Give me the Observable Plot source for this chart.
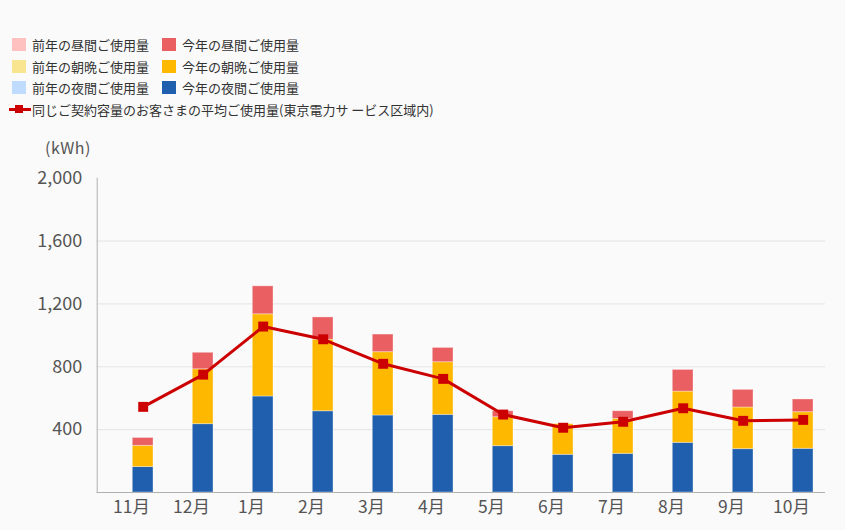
<!DOCTYPE html>
<html>
<head>
<meta charset="utf-8">
<script src="https://cdn.jsdelivr.net/npm/d3@7"></script>
<script src="https://cdn.jsdelivr.net/npm/@observablehq/plot@0.6"></script>
<style>
  html, body { margin: 0; padding: 0; background: #fafafa; }
  body { width: 845px; height: 530px; position: relative; overflow: hidden;
         font-family: "Noto Sans CJK JP", "Noto Sans", sans-serif; color: #333; }
  #legend { position: absolute; left: 12px; top: 34px; font-size: 13px; line-height: 21.5px; }
  .row { display: flex; height: 21.5px; align-items: center; }
  .item { display: flex; align-items: center; width: 150px; }
  .sw { width: 14px; height: 13px; margin-right: 6px; flex: none; }
  .ln { position: relative; width: 22px; height: 13px; margin-right: 1px; flex: none; }
  .ln::before { content: ""; position: absolute; left: 0; right: 0; top: 5px; height: 3px; background: #cc0000; }
  .ln::after { content: ""; position: absolute; left: 6px; top: 2.5px; width: 8px; height: 8px; background: #cc0000; }
  #unit { position: absolute; left: 45px; top: 135px; font-size: 16px; color: #555; letter-spacing: 0.5px; }
  #chart { position: absolute; left: 0; top: 125px; }
</style>
</head>
<body>
<div id="legend"></div>
<div id="unit">(kWh)</div>
<div id="chart"></div>
<script>
const months = ["11月","12月","1月","2月","3月","4月","5月","6月","7月","8月","9月","10月"];
const nightThisYear = [162, 435, 611, 517, 490, 494, 295, 240, 246, 316, 276, 278];
const morningThisYear = [135, 349, 523, 455, 403, 335, 184, 195, 222, 326, 265, 233];
const dayThisYear = [50, 105, 178, 142, 112, 91, 38, 0, 49, 138, 112, 81];
const averageUsage = [545, 750, 1056, 975, 819, 723, 496, 412, 450, 536, 456, 462];
const yTicks = [400, 800, 1200, 1600, 2000];
const gridTicks = [400, 800, 1200, 1600];

const seriesNames = ["今年の夜間ご使用量", "今年の朝晩ご使用量", "今年の昼間ご使用量"];
const seriesColors = ["#1f5fad", "#ffb800", "#e95f62"];
const legendRows = [
  [["前年の昼間ご使用量", "#ffc0c0"], ["今年の昼間ご使用量", "#e95f62"]],
  [["前年の朝晩ご使用量", "#f9e58f"], ["今年の朝晩ご使用量", "#ffb800"]],
  [["前年の夜間ご使用量", "#bfdcff"], ["今年の夜間ご使用量", "#1f5fad"]]
];
const lineLabel = "同じご契約容量のお客さまの平均ご使用量(東京電力サ ービス区域内)";

// legend
const legend = document.getElementById("legend");
for (const row of legendRows) {
  const r = document.createElement("div"); r.className = "row";
  for (const [name, color] of row) {
    const it = document.createElement("div"); it.className = "item";
    it.innerHTML = `<span class="sw" style="background:${color}"></span><span>${name}</span>`;
    r.appendChild(it);
  }
  legend.appendChild(r);
}
{
  const r = document.createElement("div"); r.className = "row";
  r.innerHTML = `<span class="ln"></span><span>${lineLabel}</span>`;
  r.style.marginLeft = "-3px";
  legend.appendChild(r);
}

const stackData = [];
const seriesValues = [nightThisYear, morningThisYear, dayThisYear];
months.forEach((m, i) => {
  seriesValues.forEach((vals, s) => stackData.push({month: m, series: seriesNames[s], value: vals[i]}));
});
const lineData = months.map((m, i) => ({month: m, value: averageUsage[i]}));

const chart = Plot.plot({
  width: 845,
  height: 405,
  marginLeft: 96.7,
  marginRight: 20,
  marginTop: 52.7,
  marginBottom: 38,
  style: {background: "transparent", fontFamily: "'Noto Sans CJK JP', sans-serif"},
  x: {domain: months, paddingInner: 0, paddingOuter: 0},
  y: {domain: [0, 2000]},
  color: {domain: seriesNames, range: seriesColors},
  marks: [
    Plot.gridY(gridTicks, {stroke: "#e4e4e4", strokeOpacity: 1}),
    Plot.barY(stackData, {
      x: "month", y: "value", fill: "series",
      order: seriesNames,
      insetLeft: 31.3, insetRight: 8,
      stroke: "#ffffff", strokeOpacity: 0.35, strokeWidth: 1
    }),
    Plot.frame({anchor: "left", stroke: "#b0b0b0"}),
    Plot.ruleY([0], {stroke: "#b0b0b0"}),
    Plot.line(lineData, {x: "month", y: "value", stroke: "#cc0000", strokeWidth: 3, dx: 11.7}),
    Plot.dot(lineData, {x: "month", y: "value", symbol: "square", r: 5.6, fill: "#cc0000", dx: 11.7}),
    Plot.axisY(yTicks, {tickSize: 0, tickPadding: 15, tickFormat: d3.format(","), fontSize: 18, fill: "#555", label: null}),
    Plot.axisX({tickSize: 0, tickPadding: 8, fontSize: 17.5, fill: "#555", label: null})
  ]
});
document.getElementById("chart").appendChild(chart);
</script>
</body>
</html>
